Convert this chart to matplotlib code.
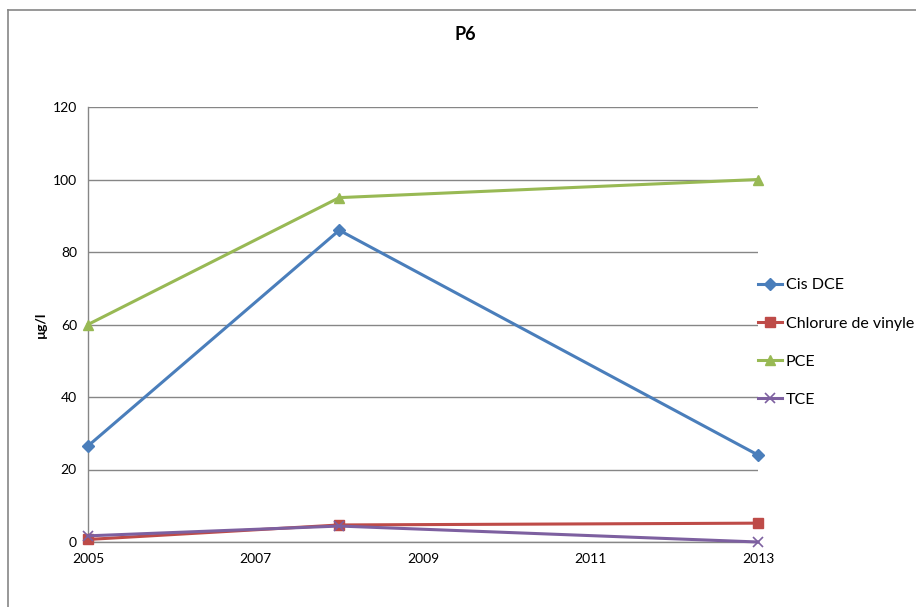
import matplotlib
matplotlib.use("Agg")
import matplotlib.pyplot as plt
from matplotlib.lines import Line2D

years = [2005, 2008, 2013]
cis_dce = [26.5, 86, 24]
chlorure = [0.7, 4.7, 5.2]
pce = [60, 95, 100]
tce = [1.7, 4.4, 0]
series_names = ["Cis DCE", "Chlorure de vinyle", "PCE", "TCE"]
xticks = [2005, 2007, 2009, 2011, 2013]
yticks = [0, 20, 40, 60, 80, 100, 120]

plt.rcParams['font.family'] = ['Lato', 'DejaVu Sans']

fig = plt.figure(figsize=(9.16, 6.07), dpi=100)
W, H = 916, 607
fig.lines.append(Line2D([8/W, 8/W], [0, 1 - 10/H], transform=fig.transFigure,
                        color='#868686', linewidth=1.2))
fig.lines.append(Line2D([8/W, 1], [1 - 10/H, 1 - 10/H], transform=fig.transFigure,
                        color='#868686', linewidth=1.2))
ax = fig.add_axes([88/W, 65/H, 670/W, 435/H])

styles = [
    dict(color='#4A7EBB', marker='D', markersize=6),
    dict(color='#BE4B48', marker='s', markersize=7),
    dict(color='#98B954', marker='^', markersize=7),
    dict(color='#7D60A0', marker='x', markersize=7, markeredgewidth=1.2),
]
for vals, name, st in zip([cis_dce, chlorure, pce, tce], series_names, styles):
    ax.plot(years, vals, label=name, linewidth=2.2, clip_on=False, zorder=3, **st)

ax.set_xlim(2005, 2013)
ax.set_ylim(0, 120)
ax.set_xticks(xticks)
ax.set_yticks(yticks)
ax.tick_params(length=0, labelsize=10, pad=8)
ax.grid(axis='y', color='#868686', linewidth=1)
ax.set_axisbelow(True)
for s in ['top', 'right']:
    ax.spines[s].set_visible(False)
for s in ['left', 'bottom']:
    ax.spines[s].set_color('#868686')
    ax.spines[s].set_linewidth(1)

ax.set_ylabel("µg/l", fontsize=10, fontweight='bold', labelpad=4)
fig.text(465/W, 1 - 35/H, "P6", ha='center', va='center', fontsize=13, fontweight='bold')

ax.legend(loc='center left', bbox_to_anchor=(1.0, 0.4586), frameon=False, fontsize=11.5,
          handlelength=1.5, handletextpad=0.25, labelspacing=1.5, borderaxespad=0.0,
          borderpad=0.0)

fig.savefig("out.png", dpi=100)
